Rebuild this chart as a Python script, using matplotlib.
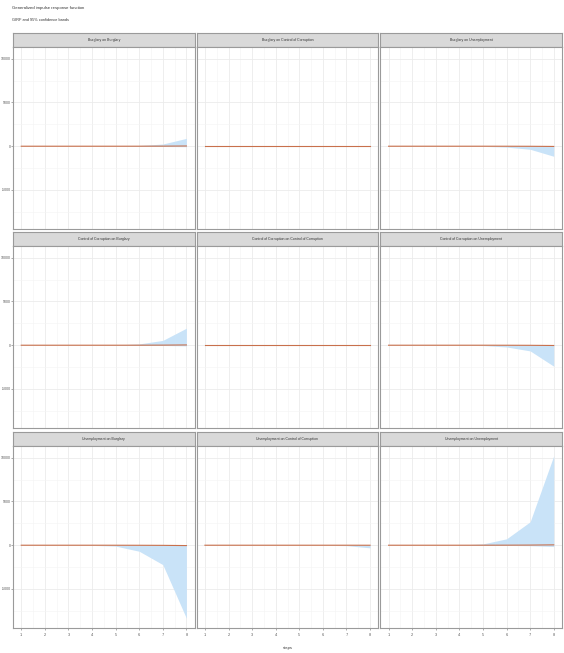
import matplotlib
matplotlib.use("Agg")
import matplotlib.pyplot as plt

plt.rcParams['font.family'] = ['Liberation Sans', 'DejaVu Sans']

steps = [1, 2, 3, 4, 5, 6, 7, 8]
panel_titles = [
    "Burglary on Burglary", "Burglary on Control of Corruption", "Burglary on Unemployment",
    "Control of Corruption on Burglary", "Control of Corruption on Control of Corruption",
    "Control of Corruption on Unemployment",
    "Unemployment on Burglary", "Unemployment on Control of Corruption", "Unemployment on Unemployment",
]

# generalized IRF (all close to zero)
irf_bb = [0, 0, 0, 0, 0, 2, 8, 25]
irf_bc = [0, 0, 0, 0, 0, 0, 0, 0]
irf_bu = [0, 0, 0, 0, 0, -2, -8, -25]
irf_cb = [0, 0, 0, 0, 0, 3, 10, 30]
irf_cc = [0, 0, 0, 0, 0, 0, 0, 0]
irf_cu = [0, 0, 0, 0, 0, -3, -10, -30]
irf_ub = [0, 0, 0, 0, -2, -6, -15, -40]
irf_uc = [0, 0, 0, 0, 0, 0, 0, -2]
irf_uu = [0, 0, 0, 0, 2, 6, 15, 40]

# 95% confidence bands
lower_bb = [0, 0, 0, 0, 0, -10, -30, -60]
upper_bb = [0, 0, 0, 0, 20, 80, 250, 900]
lower_bc = [0, 0, 0, 0, 0, 0, -5, -10]
upper_bc = [0, 0, 0, 0, 0, 0, 5, 10]
lower_bu = [0, 0, 0, 0, -20, -100, -350, -1150]
upper_bu = [0, 0, 0, 0, 0, 10, 30, 60]
lower_cb = [0, 0, 0, 0, 0, -10, -30, -80]
upper_cb = [0, 0, 0, 0, 30, 150, 550, 1950]
lower_cc = [0, 0, 0, 0, 0, -5, -10, -30]
upper_cc = [0, 0, 0, 0, 0, 5, 10, 30]
lower_cu = [0, 0, 0, 0, -40, -200, -650, -2400]
upper_cu = [0, 0, 0, 0, 0, 10, 30, 80]
lower_ub = [0, 0, 0, -20, -100, -690, -2220, -8350]
upper_ub = [0, 0, 0, 0, 0, 10, 30, 80]
lower_uc = [0, 0, 0, 0, 0, -10, -50, -300]
upper_uc = [0, 0, 0, 0, 0, 5, 20, 60]
lower_uu = [0, 0, 0, 0, -10, -20, -60, -150]
upper_uu = [0, 0, 0, 20, 150, 730, 2680, 10230]

irfs = [irf_bb, irf_bc, irf_bu, irf_cb, irf_cc, irf_cu, irf_ub, irf_uc, irf_uu]
lowers = [lower_bb, lower_bc, lower_bu, lower_cb, lower_cc, lower_cu, lower_ub, lower_uc, lower_uu]
uppers = [upper_bb, upper_bc, upper_bu, upper_cb, upper_cc, upper_cu, upper_ub, upper_uc, upper_uu]

y_ticks = [-5000, 0, 5000, 10000]
y_minor = [-7500, -2500, 2500, 7500]

W, H = 564, 653
fig = plt.figure(figsize=(W / 100, H / 100), dpi=100)

ymin = min(min(l) for l in lowers)
ymax = max(max(u) for u in uppers)
pad = 0.06 * (ymax - ymin)

left, right = 13, 562
gap = 2
col_w = (right - left - 2 * gap) / 3
row_top = [33, 232, 432]
strip_h = 14
panel_h = 182

for i in range(9):
    r, c = divmod(i, 3)
    x0 = left + c * (col_w + gap)
    top = row_top[r]
    # strip
    sax = fig.add_axes([x0 / W, 1 - (top + strip_h) / H, col_w / W, strip_h / H])
    sax.set_facecolor('#d9d9d9')
    sax.set_xticks([])
    sax.set_yticks([])
    for s in sax.spines.values():
        s.set_color('#9a9a9a')
        s.set_linewidth(0.8)
    sax.text(0.5, 0.5, panel_titles[i], ha='center', va='center', fontsize=2.5,
             color='#333333', transform=sax.transAxes)

    ax = fig.add_axes([x0 / W, 1 - (top + strip_h + panel_h) / H, col_w / W, panel_h / H])
    ax.set_facecolor('white')
    ax.fill_between(steps, lowers[i], uppers[i], color='#c9e3f8', linewidth=0, zorder=2)
    ax.plot(steps, irfs[i], color='#c8704c', linewidth=0.8, zorder=3)
    ax.set_xlim(0.65, 8.35)
    ax.set_ylim(ymin - pad, ymax + pad)
    ax.set_xticks(steps)
    ax.set_xticks([s + 0.5 for s in steps[:-1]], minor=True)
    ax.set_yticks(y_ticks)
    ax.set_yticks(y_minor, minor=True)
    ax.grid(True, which='major', color='#ebebeb', linewidth=0.6, zorder=0)
    ax.grid(True, which='minor', color='#f4f4f4', linewidth=0.4, zorder=0)
    ax.set_axisbelow(True)
    ax.tick_params(which='minor', length=0)
    ax.tick_params(which='major', length=1.2, width=0.5, color='#888888',
                   labelsize=2.5, labelcolor='#555555', pad=0.5)
    for s in ax.spines.values():
        s.set_color('#9a9a9a')
        s.set_linewidth(0.8)
    if c != 0:
        ax.tick_params(axis='y', length=0, labelleft=False)
    else:
        ax.set_yticklabels([str(t) for t in y_ticks])
    if r != 2:
        ax.tick_params(axis='x', length=0, labelbottom=False)
    else:
        ax.tick_params(axis='x', pad=2.5, labelsize=2.8)

fig.text(12 / W, 1 - 8 / H, "Generalized impulse response function", fontsize=3.1,
         color='#333333', va='center', ha='left')
fig.text(12 / W, 1 - 20 / H, "GIRF and 95% confidence bands", fontsize=2.8,
         color='#333333', va='center', ha='left')
fig.text((left + right) / 2 / W, 1 - 648 / H, "steps", fontsize=3.0,
         color='#333333', va='center', ha='center')

fig.savefig("out.png", dpi=100, facecolor='white')
